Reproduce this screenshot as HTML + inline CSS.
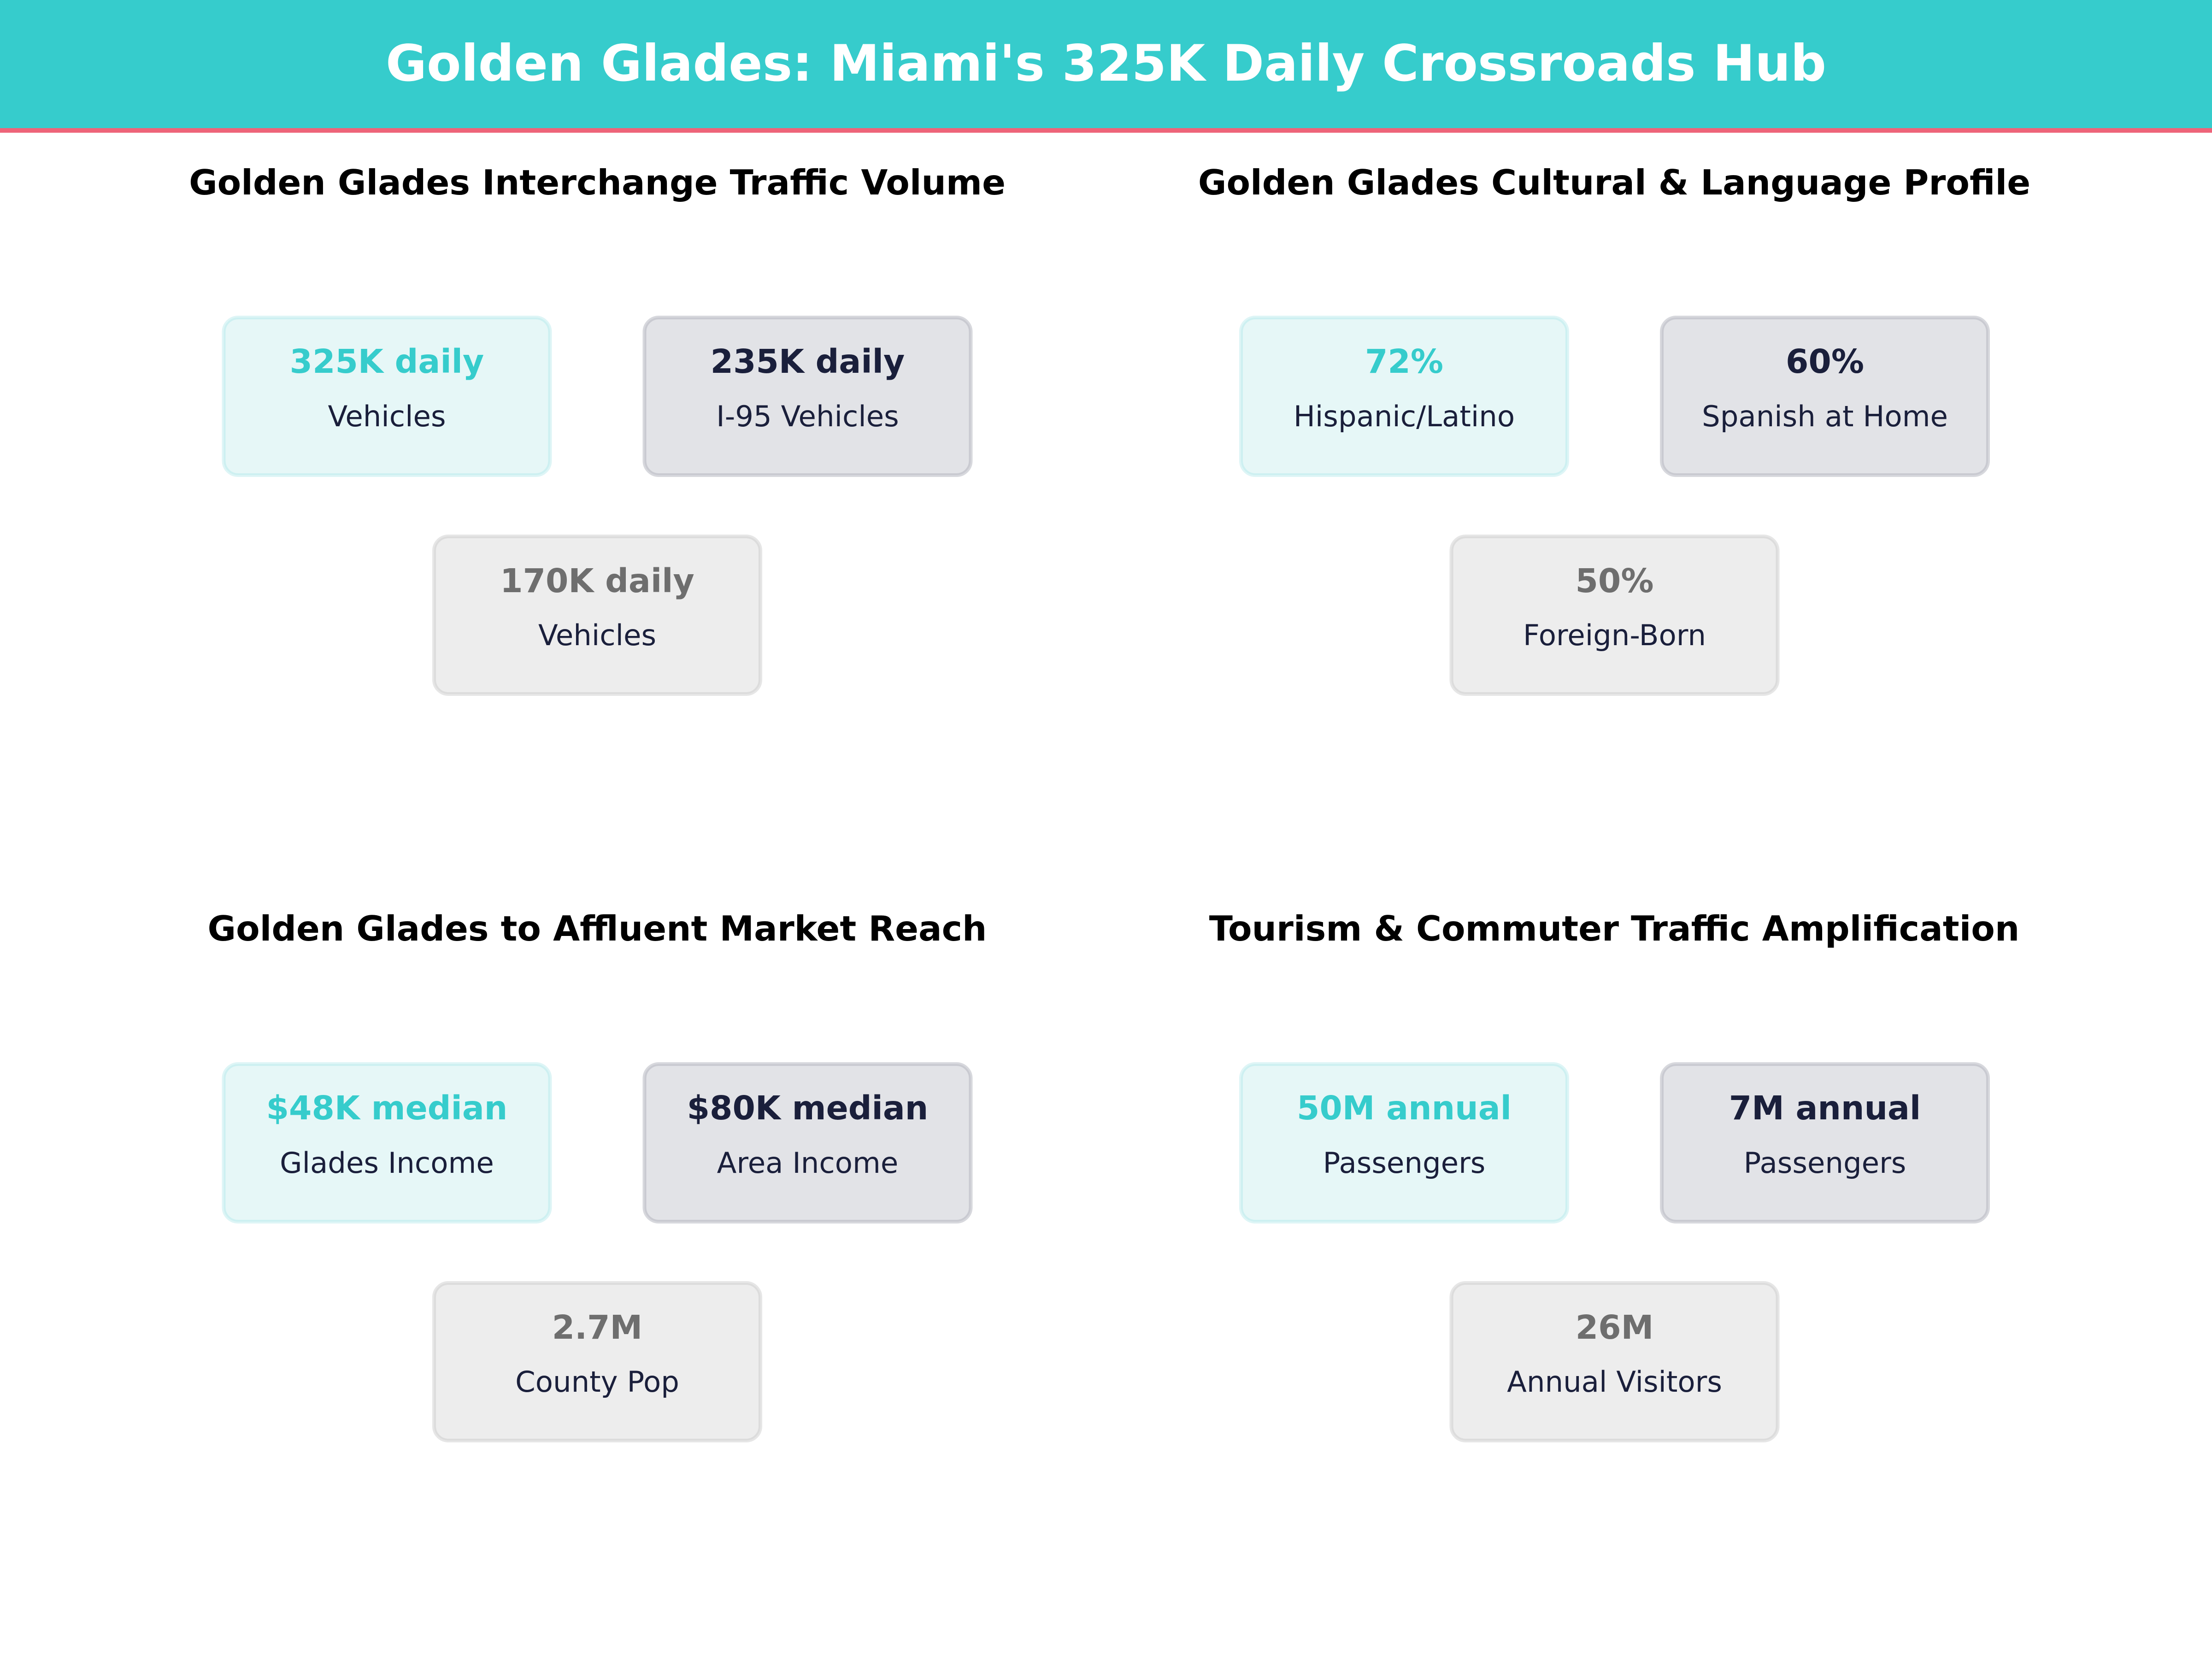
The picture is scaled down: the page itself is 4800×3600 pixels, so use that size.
<!DOCTYPE html>
<html>
<head>
<meta charset="utf-8">
<style>
  html, body { margin:0; padding:0; background:#ffffff; }
  body { width:4800px; height:3600px; overflow:hidden; }
  svg { display:block; }
  text { font-family: "DejaVu Sans", "Liberation Sans", sans-serif; }
</style>
</head>
<body>
<svg width="4800" height="3600" viewBox="0 0 4800 3600" xmlns="http://www.w3.org/2000/svg">
  <rect x="0" y="0" width="4800" height="3600" fill="#ffffff"/>
  <!-- Header -->
  <rect x="0" y="0" width="4800" height="279" fill="#36cccc"/>
  <rect x="0" y="278" width="4800" height="10" fill="#ee6479"/>
  <text x="2400" y="175" text-anchor="middle" font-size="108.5" font-weight="bold" fill="#ffffff">Golden Glades: Miami's 325K Daily Crossroads Hub</text>

  <defs>
    <g id="b1">
      <rect x="-354" y="-171" width="708" height="342" rx="31" ry="31" fill="#e6f7f7" stroke="#def5f6" stroke-width="8"/>
      <rect x="-352" y="-169" width="704" height="338" rx="29" ry="29" fill="none" stroke="#cdf0f1" stroke-width="4"/>
    </g>
    <g id="b2">
      <rect x="-354" y="-171" width="708" height="342" rx="31" ry="31" fill="#e2e3e7" stroke="#d7d8dd" stroke-width="8"/>
      <rect x="-352" y="-169" width="704" height="338" rx="29" ry="29" fill="none" stroke="#c9cad1" stroke-width="4"/>
    </g>
    <g id="b3">
      <rect x="-354" y="-171" width="708" height="342" rx="31" ry="31" fill="#ededed" stroke="#e6e6e6" stroke-width="8"/>
      <rect x="-352" y="-169" width="704" height="338" rx="29" ry="29" fill="none" stroke="#dcdcdc" stroke-width="4"/>
    </g>
  </defs>

  <!-- Panel titles -->
  <g font-size="75" font-weight="bold" fill="#000000" text-anchor="middle">
    <text x="1296" y="422">Golden Glades Interchange Traffic Volume</text>
    <text x="3503" y="422">Golden Glades Cultural &amp; Language Profile</text>
    <text x="1296" y="2041">Golden Glades to Affluent Market Reach</text>
    <text x="3503" y="2041">Tourism &amp; Commuter Traffic Amplification</text>
  </g>

  <!-- Panel 1 -->
  <use href="#b1" x="839.5" y="860"/>
  <use href="#b2" x="1752.5" y="860"/>
  <use href="#b3" x="1296" y="1335"/>
  <!-- Panel 2 -->
  <use href="#b1" x="3047" y="860"/>
  <use href="#b2" x="3960" y="860"/>
  <use href="#b3" x="3503.5" y="1335"/>
  <!-- Panel 3 -->
  <use href="#b1" x="839.5" y="2480"/>
  <use href="#b2" x="1752.5" y="2480"/>
  <use href="#b3" x="1296" y="2955"/>
  <!-- Panel 4 -->
  <use href="#b1" x="3047" y="2480"/>
  <use href="#b2" x="3960" y="2480"/>
  <use href="#b3" x="3503.5" y="2955"/>

  <!-- Values -->
  <g font-size="71" font-weight="bold" text-anchor="middle">
    <text x="839.5" y="809" fill="#36cccc">325K daily</text>
    <text x="1752.5" y="809" fill="#1a1f3b">235K daily</text>
    <text x="1296" y="1285" fill="#6e6e6e">170K daily</text>

    <text x="3047" y="809" fill="#36cccc">72%</text>
    <text x="3960" y="809" fill="#1a1f3b">60%</text>
    <text x="3503.5" y="1285" fill="#6e6e6e">50%</text>

    <text x="839.5" y="2429" fill="#36cccc">$48K median</text>
    <text x="1752.5" y="2429" fill="#1a1f3b">$80K median</text>
    <text x="1296" y="2905" fill="#6e6e6e">2.7M</text>

    <text x="3047" y="2429" fill="#36cccc">50M annual</text>
    <text x="3960" y="2429" fill="#1a1f3b">7M annual</text>
    <text x="3503.5" y="2905" fill="#6e6e6e">26M</text>
  </g>

  <!-- Labels -->
  <g font-size="62.5" text-anchor="middle" fill="#1a1f3b">
    <text x="839.5" y="925">Vehicles</text>
    <text x="1752.5" y="925">I-95 Vehicles</text>
    <text x="1296" y="1400">Vehicles</text>

    <text x="3047" y="925">Hispanic/Latino</text>
    <text x="3960" y="925">Spanish at Home</text>
    <text x="3503.5" y="1400">Foreign-Born</text>

    <text x="839.5" y="2545">Glades Income</text>
    <text x="1752.5" y="2545">Area Income</text>
    <text x="1296" y="3020">County Pop</text>

    <text x="3047" y="2545">Passengers</text>
    <text x="3960" y="2545">Passengers</text>
    <text x="3503.5" y="3020">Annual Visitors</text>
  </g>
</svg>
</body>
</html>
